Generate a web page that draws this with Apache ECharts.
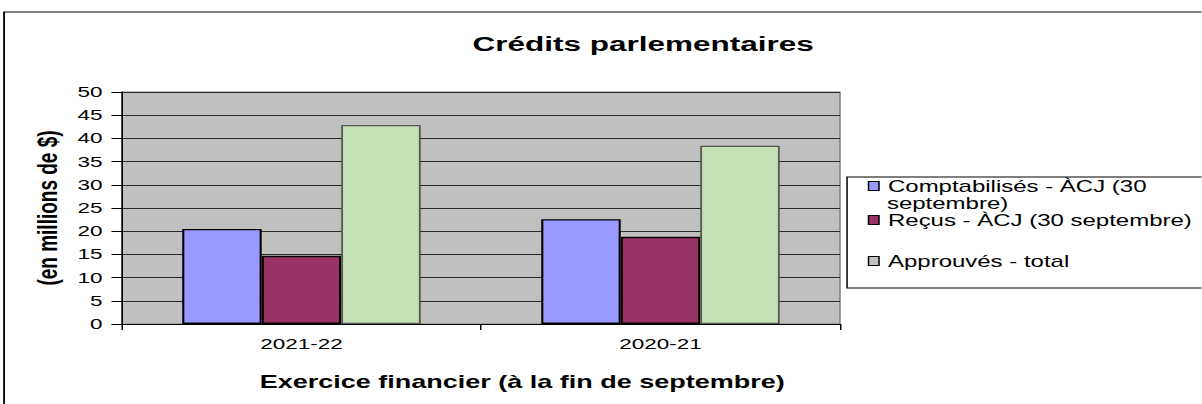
<!DOCTYPE html>
<html>
<head>
<meta charset="utf-8">
<script src="https://cdn.jsdelivr.net/npm/echarts@6/dist/echarts.min.js"></script>
<style>
    html, body { margin: 0; padding: 0; background: #fff; overflow: hidden; }
    /* the reference picture is stretched sideways, so draw narrow and scale x */
    #chart { width: 801.33px; height: 404px; transform: scaleX(1.5); transform-origin: 0 0; }
</style>
</head>
<body>
<div id="chart"></div>
<script>
const categories = ['2021-22', '2020-21'];
const comptabilises = [20.5, 22.6];
const recus = [14.7, 18.8];
const approuves = [42.9, 38.4];
const seriesNames = ['Comptabilisés - ÀCJ (30 septembre)', 'Reçus - ÀCJ (30 septembre)', 'Approuvés - total'];
const yMin = 0, yMax = 50, yStep = 5;

const font = "'Liberation Sans', Arial, sans-serif";
let myChart = echarts.init(document.getElementById('chart'), null, { renderer: 'svg' });

function legendFor(name, top, iconColor) {
    let item = { name: name };
    if (iconColor) item.itemStyle = { color: iconColor };
    return {
        data: [item],
        orient: 'vertical',
        left: 578.5,
        top: top,
        padding: 0,
        itemWidth: 7,
        itemHeight: 9,
        icon: 'rect',
        selectedMode: false,
        itemStyle: { borderColor: '#000', borderWidth: 1 },
        textStyle: { fontFamily: font, fontSize: 16, color: '#000', lineHeight: 18, padding: [0, 0, 0, 1] },
        formatter: function (n) { return n === seriesNames[0] ? 'Comptabilisés - ÀCJ (30' : n; }
    };
}

myChart.setOption({
    animation: false,
    title: {
        text: 'Crédits parlementaires',
        left: 315,
        top: 33,
        padding: 0,
        textStyle: { fontFamily: font, fontSize: 21, fontWeight: 'bold', color: '#000' }
    },
    graphic: [
        // cadre extérieur
        { type: 'rect', shape: { x: 2.7, y: 12, width: 900, height: 500 }, style: { fill: 'none', stroke: '#000', lineWidth: 1.2 }, silent: true },
        // cadre de la légende
        { type: 'rect', shape: { x: 564.7, y: 177, width: 300, height: 111 }, style: { fill: '#fff', stroke: '#000', lineWidth: 1 }, silent: true, z: -1 },
        { type: 'text', left: 591.3, top: 196, style: { text: 'septembre)', font: '16px ' + font, fill: '#000' }, silent: true }
    ],
    legend: [
        legendFor(seriesNames[0], 177, null),
        legendFor(seriesNames[1], 211, null),
        legendFor(seriesNames[2], 252, '#c0c0c0')
    ],
    grid: {
        left: 81.3,
        top: 92,
        width: 478.7,
        height: 232,
        show: true,
        backgroundColor: '#c0c0c0',
        borderColor: '#808080',
        borderWidth: 1
    },
    xAxis: {
        type: 'category',
        data: categories,
        name: 'Exercice financier (à la fin de septembre)',
        nameLocation: 'middle',
        nameGap: 49,
        nameTextStyle: { fontFamily: font, fontSize: 18, fontWeight: 'bold', color: '#000', padding: [0, 0, 0, 55] },
        axisLine: { lineStyle: { color: '#000', width: 1 } },
        axisTick: { show: true, length: 6, interval: 0, lineStyle: { color: '#000' } },
        axisLabel: { fontFamily: font, fontSize: 15, color: '#000', margin: 12 },
        splitLine: { show: false }
    },
    yAxis: {
        type: 'value',
        min: yMin,
        max: yMax,
        interval: yStep,
        name: '(en millions de $)',
        nameLocation: 'middle',
        nameGap: 40,
        nameTextStyle: { fontFamily: font, fontSize: 19, fontWeight: 'bold', color: '#000' },
        axisLine: { show: true, lineStyle: { color: '#000', width: 1 } },
        axisTick: { show: true, length: 7, lineStyle: { color: '#000' } },
        axisLabel: { fontFamily: font, fontSize: 15, color: '#000', margin: 13 },
        splitLine: { show: true, lineStyle: { color: '#2a2a2a', width: 1 } }
    },
    series: [
        {
            name: seriesNames[0], type: 'bar', data: comptabilises, barWidth: 53, barGap: '0%',
            itemStyle: { color: '#9999ff', borderColor: '#000', borderWidth: 1.4 }
        },
        {
            name: seriesNames[1], type: 'bar', data: recus, barWidth: 53, barGap: '0%',
            itemStyle: { color: '#993366', borderColor: '#000', borderWidth: 1.4 }
        },
        {
            name: seriesNames[2], type: 'bar', data: approuves, barWidth: 53, barGap: '0%',
            itemStyle: { color: '#c5e0b3', borderColor: '#555', borderWidth: 1.2 }
        }
    ]
});
</script>
</body>
</html>
